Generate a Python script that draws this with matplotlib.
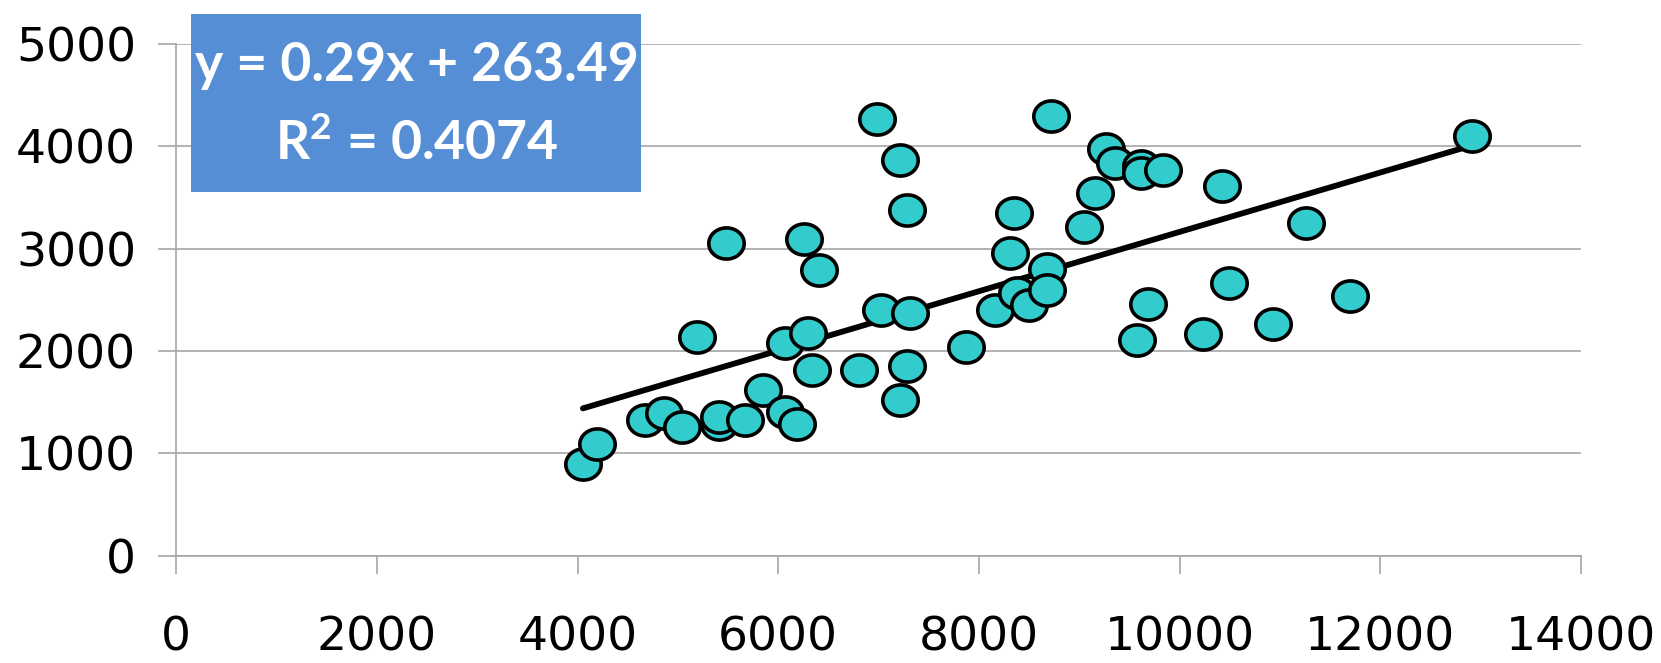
import numpy as np
import matplotlib
matplotlib.use("Agg")
import matplotlib.pyplot as plt
from matplotlib.path import Path
from matplotlib.patches import Rectangle

plt.rcParams['mathtext.fontset'] = 'custom'
plt.rcParams['mathtext.rm'] = 'Lato:bold'
plt.rcParams['mathtext.bf'] = 'Lato:bold'

x_vals = [4053, 4198, 4675, 4858, 5045, 5190, 5407, 5407, 5483, 5666,
          5853, 6070, 6070, 6185, 6253, 6295, 6334, 6406, 6806, 6989,
          7027, 7210, 7210, 7283, 7283, 7317, 7870, 8164, 8312, 8347,
          8385, 8496, 8679, 8679, 8717, 9045, 9159, 9266, 9361, 9612,
          9612, 9833, 10423, 11265, 12914, 10497, 9686, 9577, 10237, 10931,
          11703]
y_vals = [897, 1095, 1326, 1392, 1256, 2140, 1285, 1351, 3053, 1322,
          1620, 2074, 1401, 1289, 3091, 2178, 1814, 2793, 1814, 4264,
          2401, 3868, 1521, 3380, 1851, 2372, 2041, 2401, 2954, 3351,
          2570, 2454, 2801, 2595, 4293, 3215, 3541, 3971, 3839, 3810,
          3735, 3772, 3611, 3252, 4099, 2665, 2463, 2103, 2169, 2268,
          2533]
slope = 0.29
intercept = 263.49
r_squared = 0.4074
x_ticks = [0, 2000, 4000, 6000, 8000, 10000, 12000, 14000]
y_ticks = [0, 1000, 2000, 3000, 4000, 5000]

W, H = 1661, 663
fig = plt.figure(figsize=(W / 100, H / 100), dpi=100)
ax = fig.add_axes([176.3 / W, 1 - 555.6 / H, (1580.8 - 176.3) / W, (555.6 - 44) / H])

ax.set_xlim(0, 14000)
ax.set_ylim(0, 5000)
ax.set_xticks(x_ticks)
ax.set_yticks(y_ticks)
ax.set_xticklabels([str(t) for t in x_ticks])
ax.set_yticklabels([str(t) for t in y_ticks])

grid_col = '#a6a6a6'
ax.yaxis.grid(True, color=grid_col, linewidth=1.2)
ax.set_axisbelow(True)
for s in ['top', 'right']:
    ax.spines[s].set_visible(False)
for s in ['left', 'bottom']:
    ax.spines[s].set_color(grid_col)
    ax.spines[s].set_linewidth(1.2)
ax.tick_params(axis='both', direction='out', length=13, width=1.2, color=grid_col,
               labelsize=34, labelcolor='black')
ax.tick_params(axis='x', pad=30)
ax.tick_params(axis='y', pad=16)

# elliptical marker
t = np.linspace(0, 2 * np.pi, 60)
ell = Path(np.column_stack([np.cos(t), 0.88 * np.sin(t)]), closed=True)

xs = np.array(x_vals, dtype=float)
ys = np.array(y_vals, dtype=float)
xl = np.array([xs.min(), xs.max()])
ax.plot(xl, slope * xl + intercept, color='black', linewidth=4.2, solid_capstyle='round', zorder=2)
ax.plot(xs, ys, linestyle='none', marker=ell, markersize=25.5,
        markerfacecolor='#33CCCC', markeredgecolor='black', markeredgewidth=2.6, zorder=3)

# equation box
fig.patches.append(Rectangle((191 / W, 1 - 191.5 / H), (641 - 191) / W, (191.5 - 14) / H,
                             transform=fig.transFigure, facecolor='#558ED5', edgecolor='none',
                             zorder=5))
cx = 417 / W
fig.text(cx, 1 - 66 / H, f"y = {slope}x + {intercept}", ha='center', va='center',
         color='white', fontsize=38.5, fontweight='bold', family='Lato', zorder=6)
fig.text(cx, 1 - 143 / H, r"R$^{2}$ = " + f"{r_squared}", ha='center', va='center',
         color='white', fontsize=38.5, fontweight='bold', family='Lato', zorder=6)

fig.savefig('out.png', dpi=100)
